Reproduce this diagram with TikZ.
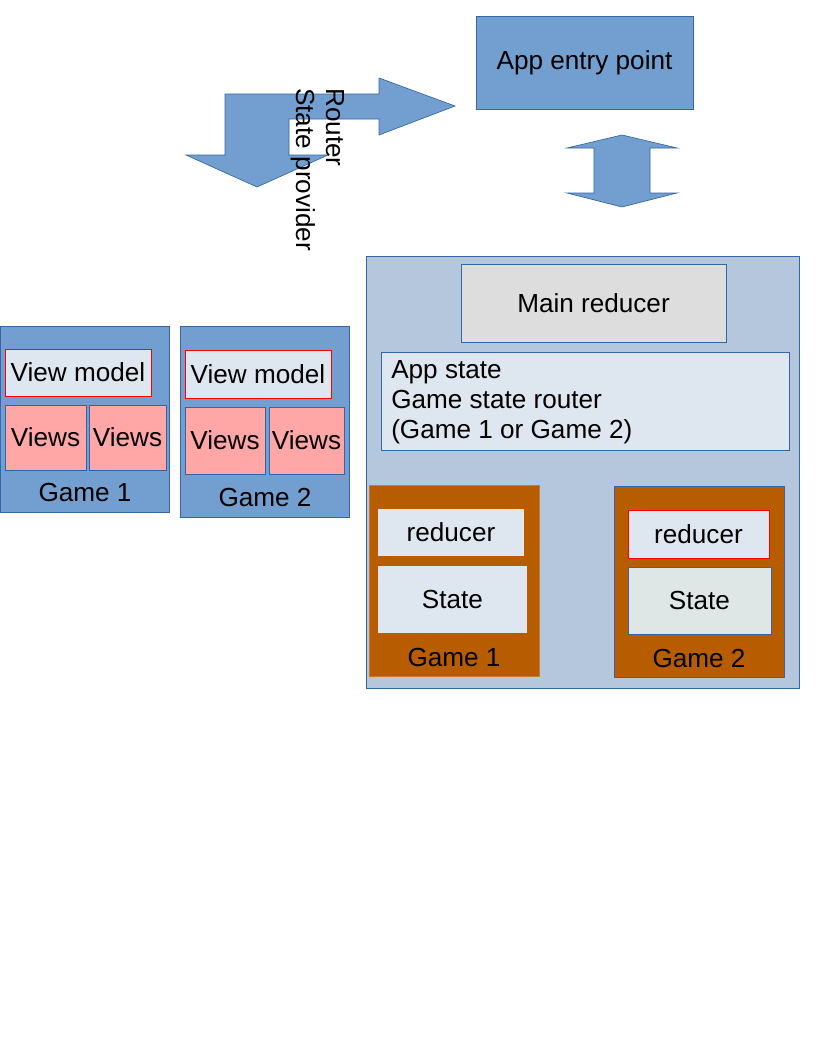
\documentclass[tikz,border=0pt]{standalone}
\usepackage{fontspec}
\setmainfont{Liberation Sans}
\definecolor{fillblue}{HTML}{729FCF}
\definecolor{lineblue}{HTML}{3465A4}
\definecolor{lightblue}{HTML}{B4C7DC}
\definecolor{paleblue}{HTML}{DEE6EF}
\definecolor{paleteal}{HTML}{DEE7E5}
\definecolor{viewpink}{HTML}{FFA6A6}
\definecolor{gamebrown}{HTML}{B85C00}
\definecolor{greybox}{HTML}{DDDDDD}
\tikzset{
  txt/.style={inner sep=0pt, font=\fontsize{19.6}{22.5}\selectfont},
  box/.style={txt, draw=lineblue, line width=0.75pt},
  vmbox/.style={txt, draw=red, line width=0.75pt, fill=paleblue},
  viewbox/.style={box, fill=viewpink},
  arrowfill/.style={fill=fillblue, draw=lineblue, line width=0.5pt, line join=miter}
}
\begin{document}
\begin{tikzpicture}[x=0.75pt,y=-0.75pt]
\useasboundingbox (0,0) rectangle (816,1056);

\filldraw[arrowfill] (225,94)--(379,94)--(379,78)--(455,106)--(379,135)--(379,119)--(289,119)--(289,155)--(328,155)--(257,187)--(186,155)--(225,155)--cycle;
\node[txt, rotate=-90, align=left, anchor=north west] (router) at (345,88) {Router\\State provider};

\node[box, fill=fillblue, minimum width=162.75pt, minimum height=69pt] (entry) at (584.5,63) {App entry point};
\filldraw[arrowfill] (622,135)--(677,148)--(650,148)--(650,193)--(677,193)--(622,207)--(567,193)--(594,193)--(594,148)--(567,148)--cycle;

% store side
\node[box, fill=lightblue, minimum width=324.75pt, minimum height=324pt] (store) at (582.5,472) {};
\node[box, fill=greybox, minimum width=198.75pt, minimum height=58.5pt] (mainred) at (593.5,303) {Main reducer};
\node[box, fill=paleblue, minimum width=306pt, minimum height=73.5pt] (appstate) at (585,401) {};
\node[txt, align=left, anchor=west] (appstatetext) at (391,402) {App state\\Game state router\\(Game 1 or Game 2)};

\node[txt, fill=gamebrown, draw=gamebrown!80!white, line width=0.75pt, minimum width=127.5pt, minimum height=143.25pt] (sgame1) at (454,580.5) {};
\node[txt, fill=paleblue, minimum width=109.5pt, minimum height=35.25pt] (sred1) at (451,532.5) {reducer};
\node[txt, fill=paleblue, minimum width=111.75pt, minimum height=50.25pt] (sstate1) at (452.5,599.5) {State};
\node[txt] (slabel1) at (454,657) {Game 1};

\node[box, fill=gamebrown, minimum width=127.5pt, minimum height=143.25pt] (sgame2) at (699,581.5) {};
\node[vmbox, minimum width=105.75pt, minimum height=36pt] (sred2) at (698.5,534) {reducer};
\node[box, fill=paleteal, minimum width=107.25pt, minimum height=50.25pt] (sstate2) at (699.5,600.5) {State};
\node[txt] (slabel2) at (699,658) {Game 2};

% view side
\node[box, fill=fillblue, minimum width=126.75pt, minimum height=139.5pt] (vgame1) at (84.5,419) {};
\node[vmbox, minimum width=109.5pt, minimum height=35.25pt] (vm1) at (78,372.5) {View model};
\node[viewbox, minimum width=60.75pt, minimum height=48.75pt] (views1a) at (45.5,437.5) {Views};
\node[viewbox, minimum width=57.75pt, minimum height=48.75pt] (views1b) at (127.5,437.5) {Views};
\node[txt] (vlabel1) at (85,492) {Game 1};

\node[box, fill=fillblue, minimum width=126.75pt, minimum height=143.25pt] (vgame2) at (264.5,421.5) {};
\node[vmbox, minimum width=109.5pt, minimum height=36pt] (vm2) at (258,374) {View model};
\node[viewbox, minimum width=60pt, minimum height=50.25pt] (views2a) at (225,440.5) {Views};
\node[viewbox, minimum width=56.25pt, minimum height=50.25pt] (views2b) at (306.5,440.5) {Views};
\node[txt] (vlabel2) at (265,497) {Game 2};
\end{tikzpicture}
\end{document}
